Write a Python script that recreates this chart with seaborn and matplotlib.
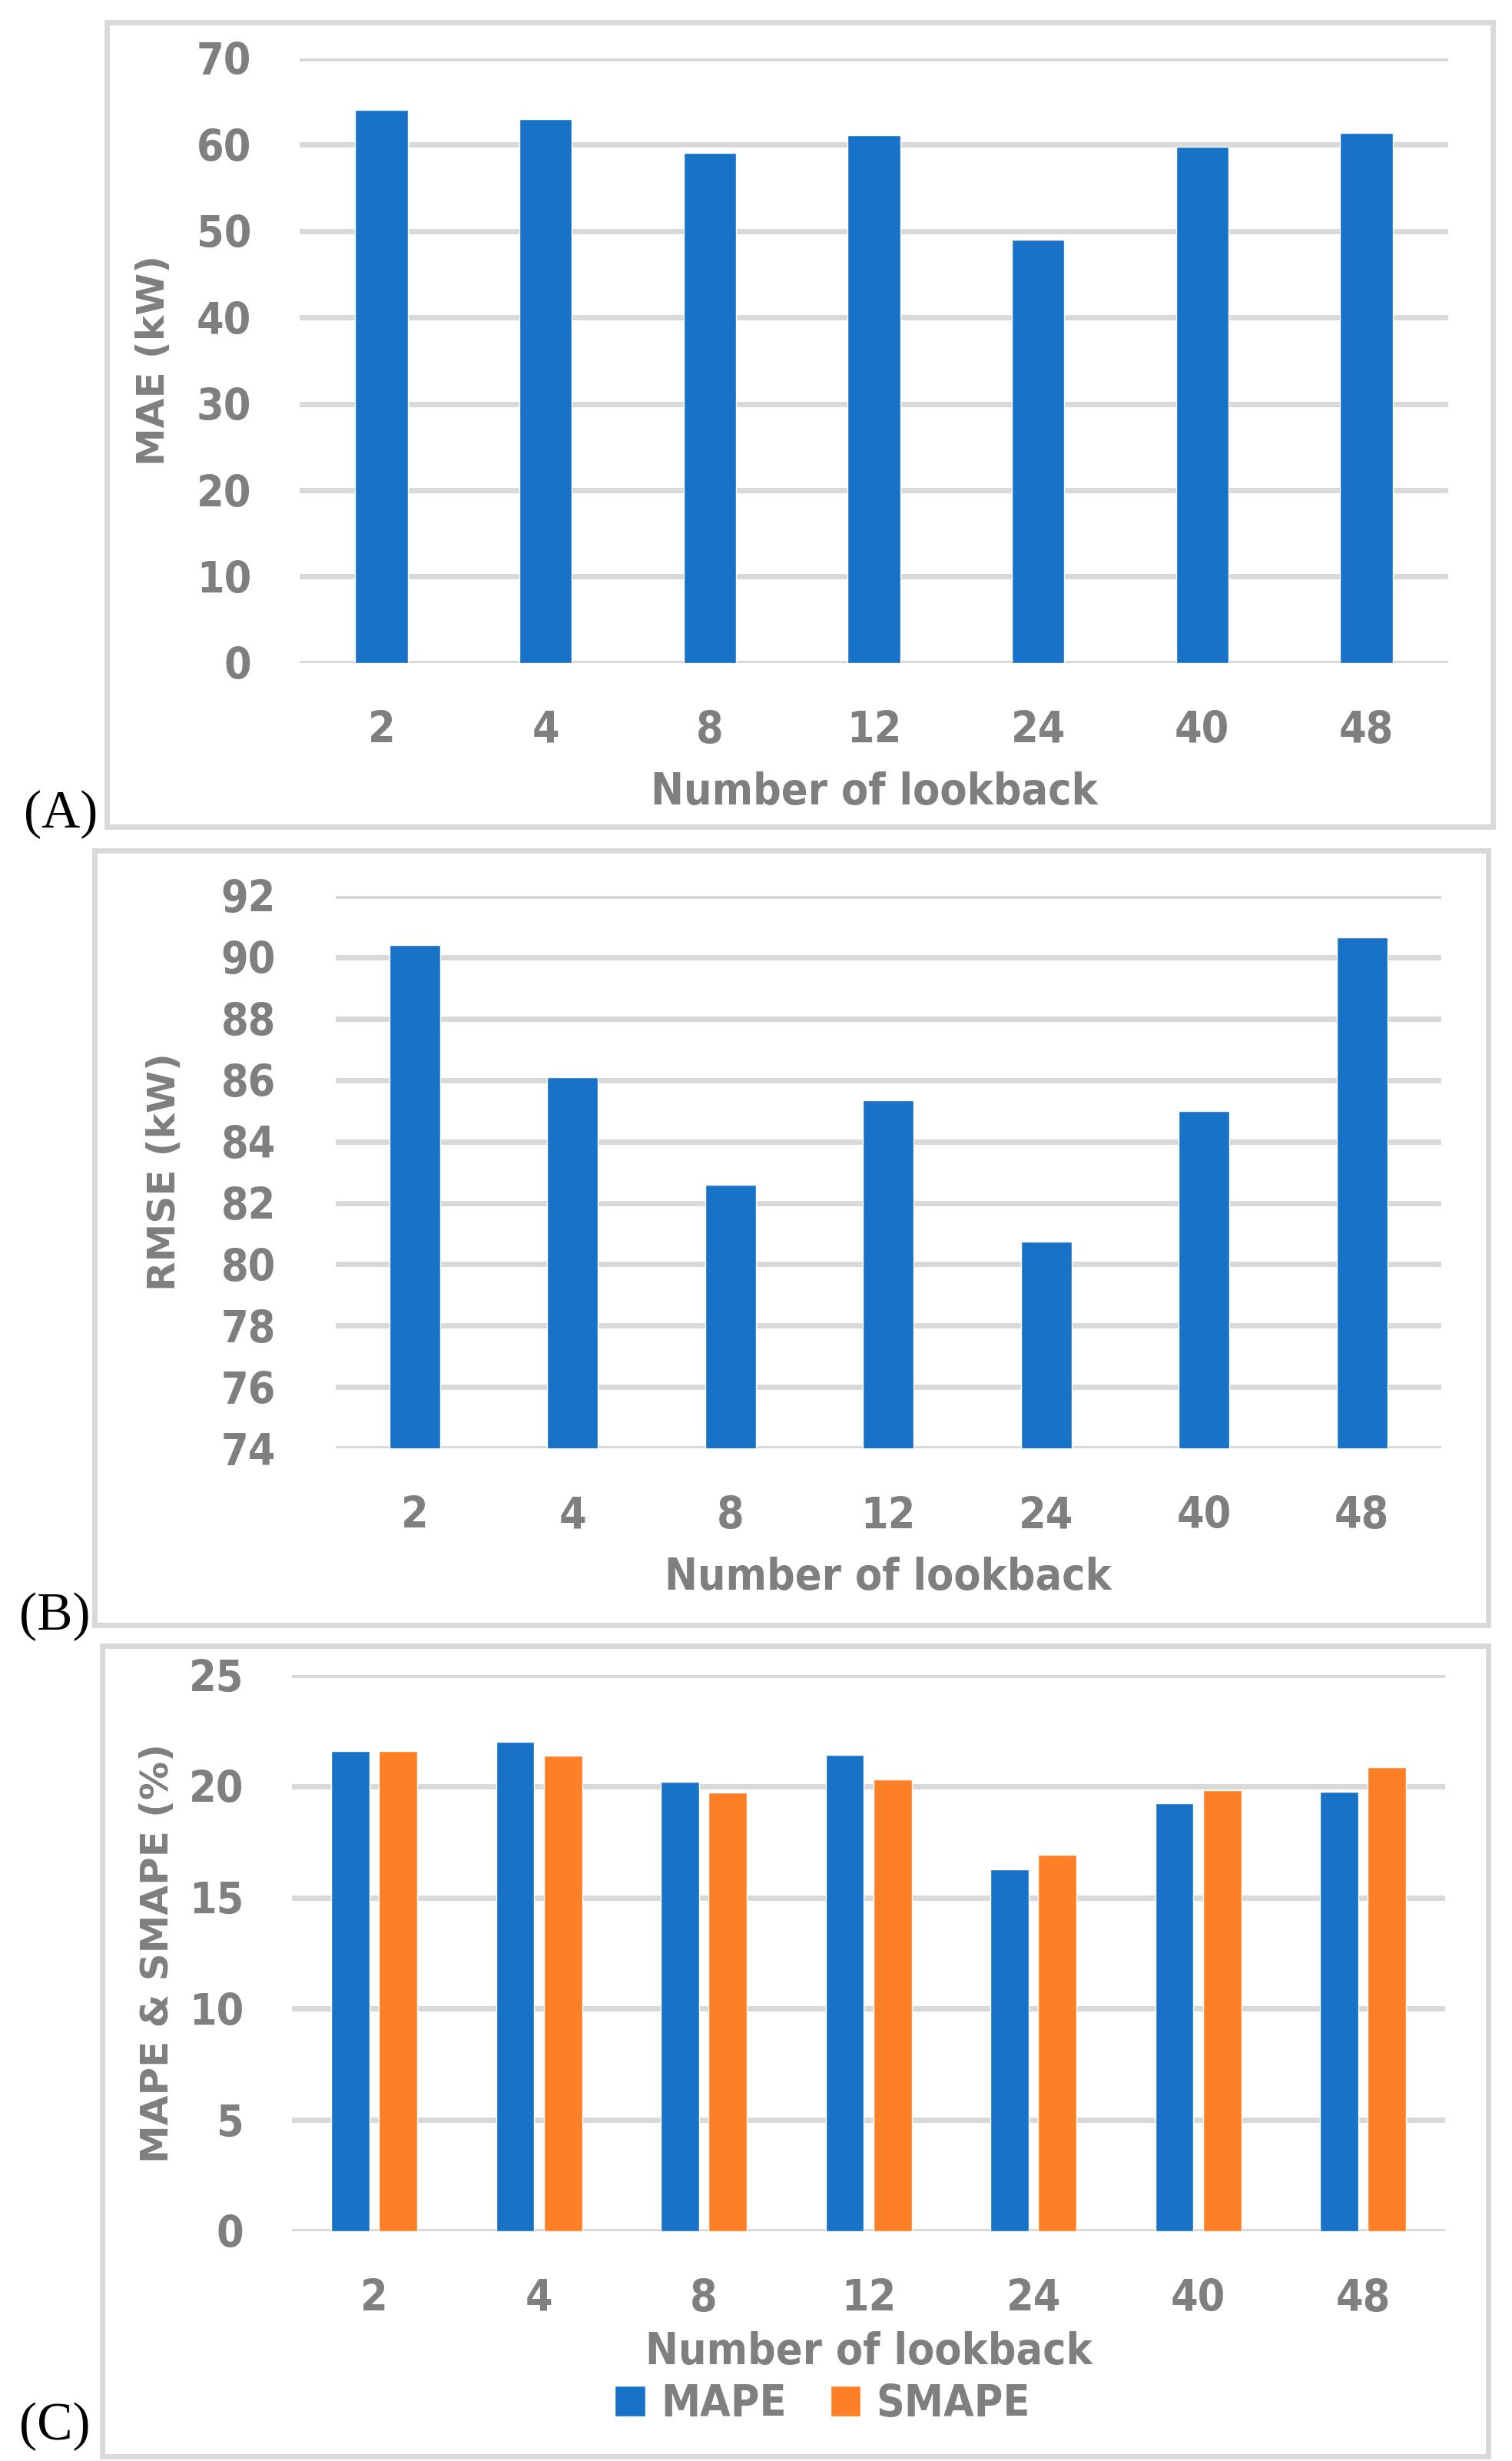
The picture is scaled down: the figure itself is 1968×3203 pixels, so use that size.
import pandas as pd
import matplotlib
matplotlib.use("Agg")
import matplotlib.pyplot as plt
from matplotlib.patches import Rectangle
import seaborn as sns

# ===============================
# Data
# ===============================
lookback = ["2", "4", "8", "12", "24", "40", "48"]
mae = [64.0, 63.0, 59.05, 61.1, 49.0, 59.8, 61.4]
rmse = [90.4, 86.08, 82.6, 85.34, 80.74, 84.99, 90.65]
mape = [21.58, 22.0, 20.21, 21.41, 16.28, 19.23, 19.76]
smape = [21.58, 21.38, 19.71, 20.31, 16.91, 19.83, 20.86]

BLUE = "#1872C8"
ORANGE = "#FF7F27"
GREY_TXT = "#7F7F7F"
GRID = "#D9D9D9"

sns.set_theme(style="white")
plt.rcParams["font.family"] = ["DejaVu Sans"]
plt.rcParams["font.stretch"] = "condensed"

fig = plt.figure(figsize=(19.68, 32.03), dpi=100)

# panel frames (figure coords) and labels
frames = [
    (0.0708, 0.664, 0.9167, 0.327, "(A)", 0.040, 0.659),
    (0.0625, 0.3397, 0.9215, 0.3148, "(B)", 0.036, 0.333),
    (0.0677, 0.0019, 0.9163, 0.3295, "(C)", 0.036, 0.004),
]
for x0, y0, w, h, lab, lx, ly in frames:
    fig.patches.append(Rectangle((x0, y0), w, h, transform=fig.transFigure,
                                 fill=False, edgecolor=GRID, linewidth=5))
    fig.text(lx, ly, lab, family="Liberation Serif", fontsize=50,
             color="black", ha="center", va="bottom")


def style_axes(ax, ylabel, yticks, ypad, ylab_x, xlabpad):
    ax.set_yticks(yticks)
    ax.set_ylim(yticks[0], yticks[-1])
    ax.yaxis.grid(True, color=GRID, linewidth=5)
    ax.set_axisbelow(True)
    for s in ax.spines.values():
        s.set_visible(False)
    ax.tick_params(axis="both", length=0, labelsize=41, labelcolor=GREY_TXT)
    ax.tick_params(axis="y", pad=ypad)
    ax.tick_params(axis="x", pad=44)
    for t in ax.get_xticklabels() + ax.get_yticklabels():
        t.set_fontweight("bold")
    ax.set_xlabel("Number of lookback", fontsize=41, color=GREY_TXT,
                  fontweight="bold", labelpad=xlabpad)
    ax.set_ylabel(ylabel, fontsize=36, color=GREY_TXT, fontweight="bold",
                  fontstretch="normal")
    ax.yaxis.set_label_coords(ylab_x, 0.5)


# ===============================
# (A) MAE
# ===============================
ax_a = fig.add_axes([0.198, 0.7306, 0.760, 0.2457])
df_a = pd.DataFrame({"lookback": lookback, "MAE": mae})
sns.barplot(data=df_a, x="lookback", y="MAE", color=BLUE, saturation=1,
            width=0.32, ax=ax_a)
style_axes(ax_a, "MAE (kW)", list(range(0, 71, 10)), 45, -0.111, 18)

# ===============================
# (B) RMSE
# ===============================
ax_b = fig.add_axes([0.222, 0.4114, 0.731, 0.2246])
df_b = pd.DataFrame({"lookback": lookback, "RMSE": rmse})
sns.barplot(data=df_b, x="lookback", y="RMSE", color=BLUE, saturation=1,
            width=0.32, ax=ax_b)
style_axes(ax_b, "RMSE (kW)", list(range(74, 93, 2)), 56, -0.138, 18)

# ===============================
# (C) MAPE & SMAPE
# ===============================
ax_c = fig.add_axes([0.193, 0.0934, 0.763, 0.2259])
df_c = pd.DataFrame({
    "lookback": lookback * 2,
    "value": mape + smape,
    "metric": ["MAPE"] * len(lookback) + ["SMAPE"] * len(lookback),
})
sns.barplot(data=df_c, x="lookback", y="value", hue="metric",
            palette=[BLUE, ORANGE], saturation=1, width=0.58, gap=0.2,
            ax=ax_c)
style_axes(ax_c, "MAPE & SMAPE (%)", list(range(0, 26, 5)), 45, -0.1005, 10)
ax_c.legend(loc="upper center", bbox_to_anchor=(0.46, -0.242), ncol=2,
            frameon=False, handlelength=0.7, handleheight=0.7,
            handletextpad=0.35, columnspacing=1.0, borderaxespad=0,
            prop={"family": "DejaVu Sans", "stretch": "condensed",
                  "size": 41, "weight": "bold"},
            labelcolor=GREY_TXT)

fig.savefig("out.png", dpi=100)
